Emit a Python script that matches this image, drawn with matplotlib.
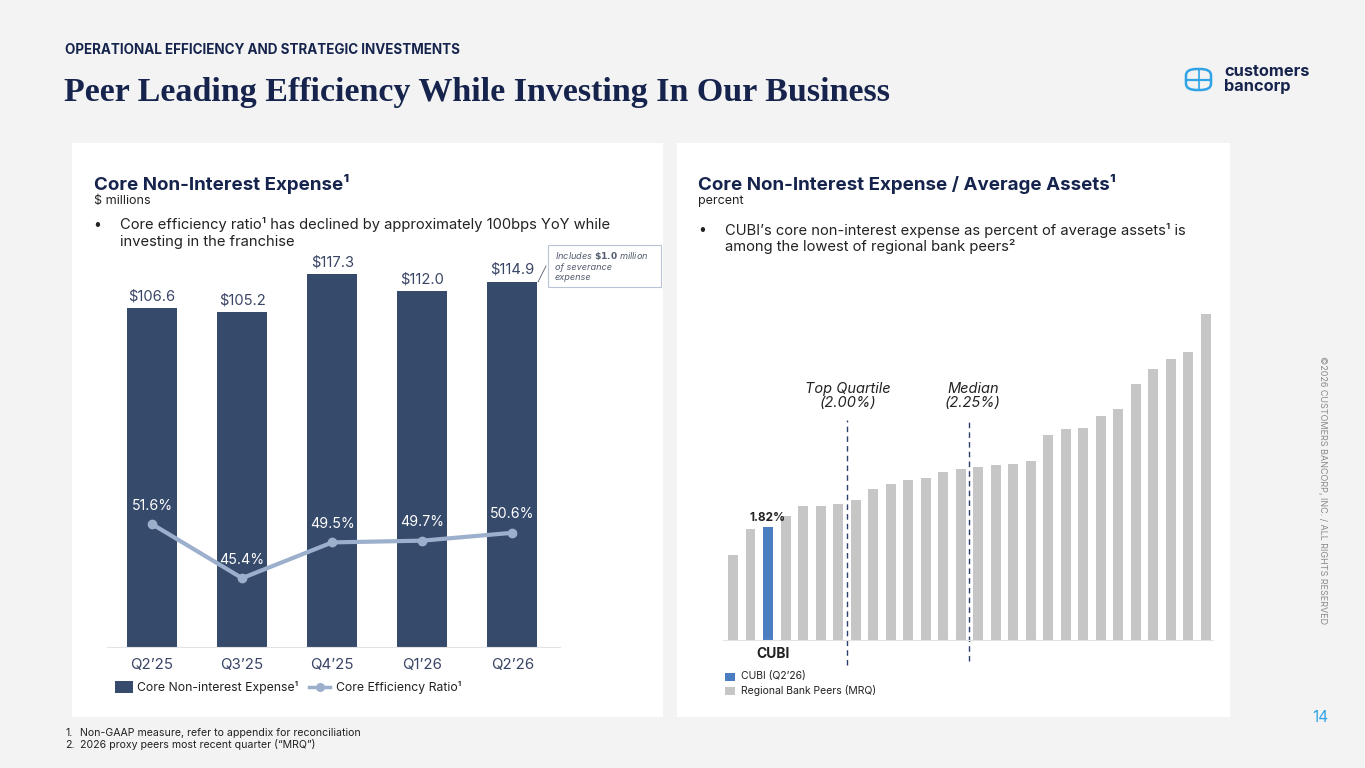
import matplotlib
matplotlib.use("Agg")
import matplotlib.pyplot as plt
from matplotlib.patches import Rectangle, FancyBboxPatch
from matplotlib.lines import Line2D

W, H = 1365, 768

# ---- data ----
quarters = ["Q2\u201925", "Q3\u201925", "Q4\u201925", "Q1\u201926", "Q2\u201926"]
core_nie = [106.6, 105.2, 117.3, 112.0, 114.9]
eff_ratio = [51.6, 45.4, 49.5, 49.7, 50.6]

peer_ratio = [1.62, 1.81, 1.82, 1.90, 1.97, 1.97, 1.99, 2.02, 2.10, 2.13,
              2.16, 2.18, 2.22, 2.24, 2.26, 2.27, 2.28, 2.30, 2.49, 2.53,
              2.54, 2.63, 2.68, 2.86, 2.97, 3.04, 3.09, 3.37]
cubi_idx = 2
top_quartile = 2.00
median = 2.25

NAVY = "#16244d"
BAR = "#364a6b"
LINE = "#9cafcc"
GRAY = "#c6c6c6"
BLUE = "#4a7ec0"
TXT = "#3a4566"

plt.rcParams["font.family"] = ["Inter", "DejaVu Sans"]


def fx(x):
    return x / W


def fy(y):
    return 1 - y / H


def axes_px(fig, x0, y0, x1, y1):
    # pixel box (top-left origin) -> axes
    return fig.add_axes([fx(x0), fy(y1), (x1 - x0) / W, (y1 - y0) / H])


fig = plt.figure(figsize=(W / 100, H / 100), dpi=100, facecolor="#f3f3f3")

# white panels
for x0, x1 in [(72, 663), (677, 1230)]:
    fig.add_artist(Rectangle((fx(x0), fy(717)), (x1 - x0) / W, (717 - 143) / H,
                             transform=fig.transFigure, facecolor="white",
                             edgecolor="none", zorder=0))

# header
fig.text(fx(65), fy(50), "OPERATIONAL EFFICIENCY AND STRATEGIC INVESTMENTS",
         fontsize=9.7, fontweight="bold", color=NAVY, va="center")
fig.text(fx(64), fy(93), "Peer Leading Efficiency While Investing In Our Business",
         fontsize=24.5, fontweight="bold", family=["Liberation Serif", "DejaVu Serif"],
         color=NAVY, va="center")

# logo
ic = FancyBboxPatch((fx(1186), fy(90)), 25 / W, 21 / H, boxstyle="round,pad=0,rounding_size=0.008",
                    transform=fig.transFigure, facecolor="none", edgecolor="#2fa3e6", lw=1.8)
fig.add_artist(ic)
fig.add_artist(Line2D([fx(1186), fx(1211)], [fy(79.5), fy(79.5)], transform=fig.transFigure,
                      color="#2fa3e6", lw=1.6))
fig.add_artist(Line2D([fx(1198.5), fx(1198.5)], [fy(70), fy(89)], transform=fig.transFigure,
                      color="#2fa3e6", lw=1.2))
fig.text(fx(1224), fy(71), "customers", fontsize=11.8, fontweight="bold", color=NAVY, va="center")
fig.text(fx(1224), fy(86), "bancorp", fontsize=11.8, fontweight="bold", color=NAVY, va="center")

# side notes
fig.text(fx(1322), fy(490), "\u00a92026 CUSTOMERS BANCORP, INC. / ALL RIGHTS RESERVED",
         fontsize=6.5, color="#8a8a8a", rotation=-90, ha="center", va="center")
fig.text(fx(1320), fy(718), "14", fontsize=11, color="#2fa3e6", ha="center", va="center")
fig.text(fx(65), fy(733), "1.", fontsize=7.6, color="#222222", va="center")
fig.text(fx(80), fy(733), "Non-GAAP measure, refer to appendix for reconciliation",
         fontsize=7.6, color="#222222", va="center")
fig.text(fx(65), fy(745), "2.", fontsize=7.6, color="#222222", va="center")
fig.text(fx(80), fy(745), "2026 proxy peers most recent quarter (\u201cMRQ\u201d)",
         fontsize=7.6, color="#222222", va="center")

# ---- left panel text ----
fig.text(fx(94), fy(184), "Core Non-Interest Expense\u00b9", fontsize=13.5,
         fontweight="bold", color=NAVY, va="center")
fig.text(fx(94), fy(201), "$ millions", fontsize=9, color="#222222", va="center")
fig.text(fx(93), fy(225), "\u2022", fontsize=10, color="#222222", va="center")
fig.text(fx(120), fy(225), "Core efficiency ratio\u00b9 has declined by approximately 100bps YoY while",
         fontsize=10.6, color="#222222", va="center")
fig.text(fx(120), fy(242), "investing in the franchise", fontsize=10.6, color="#222222", va="center")

# ---- left chart ----
ax = axes_px(fig, 107, 260, 560, 647)
xs = list(range(len(quarters)))
ax.bar(xs, core_nie, width=0.56, color=BAR, zorder=2)
ax.set_xlim(-0.5, 4.53)
ax.set_ylim(0, 121.7)
for x, v in zip(xs, core_nie):
    ax.text(x, v + 1.5, f"${v:.1f}", ha="center", va="bottom", fontsize=10.6, color=TXT)
ax.set_xticks(xs)
ax.set_xticklabels(quarters, fontsize=10.8, color=TXT)
ax.tick_params(axis="x", length=0, pad=8)
ax.set_yticks([])
for s in ["top", "right", "left"]:
    ax.spines[s].set_visible(False)
ax.spines["bottom"].set_color("#e3e3e3")
ax.set_facecolor("none")

ax2 = ax.twinx()
ax2.plot(xs, eff_ratio, color=LINE, lw=3, marker="o", ms=6, zorder=3)
ax2.set_ylim(37.5, 81.9)
ax2.set_yticks([])
for s in ax2.spines.values():
    s.set_visible(False)
for x, v in zip(xs, eff_ratio):
    ax2.text(x, v + 1.3, f"{v:.1f}%", ha="center", va="bottom", fontsize=10.2, color="white")

# annotation box
fig.text(fx(555), fy(266), "Includes $\\mathbf{\\$1.0}$ million\nof severance\nexpense",
         fontsize=6.6, style="italic", color="#555c70", va="center", ha="left", linespacing=1.15,
         math_fontfamily="dejavusans")
fig.add_artist(Rectangle((fx(548), fy(287)), (661 - 548) / W, 42 / H, transform=fig.transFigure,
                         facecolor="white", edgecolor="#b8c4d6", lw=0.8, zorder=1))
fig.add_artist(Line2D([fx(546), fx(538)], [fy(266), fy(282)], transform=fig.transFigure,
                      color="#555c70", lw=0.6))

# left legend
fig.add_artist(Rectangle((fx(115), fy(693)), 18 / W, 12 / H, transform=fig.transFigure,
                         facecolor=BAR, edgecolor="none"))
fig.text(fx(137), fy(687), "Core Non-interest Expense\u00b9", fontsize=8.8, color="#222222", va="center")
fig.add_artist(Line2D([fx(309), fx(330)], [fy(687), fy(687)], transform=fig.transFigure,
                      color=LINE, lw=2.5))
fig.add_artist(Line2D([fx(319.5)], [fy(687)], transform=fig.transFigure,
                      color=LINE, marker="o", ms=5.5, lw=0))
fig.text(fx(336), fy(687), "Core Efficiency Ratio\u00b9", fontsize=8.8, color="#222222", va="center")

# ---- right panel text ----
fig.text(fx(698), fy(184), "Core Non-Interest Expense / Average Assets\u00b9", fontsize=13.5,
         fontweight="bold", color=NAVY, va="center")
fig.text(fx(698), fy(201), "percent", fontsize=9, color="#222222", va="center")
fig.text(fx(698), fy(230), "\u2022", fontsize=10, color="#222222", va="center")
fig.text(fx(725), fy(230), "CUBI\u2019s core non-interest expense as percent of average assets\u00b9 is",
         fontsize=10.6, color="#222222", va="center")
fig.text(fx(725), fy(247), "among the lowest of regional bank peers\u00b2", fontsize=10.6,
         color="#222222", va="center")

# ---- right chart ----
bx = axes_px(fig, 723, 300, 1213, 640)
px_idx = list(range(len(peer_ratio)))
colors = [BLUE if i == cubi_idx else GRAY for i in px_idx]
bx.bar(px_idx, [v - 1.0 for v in peer_ratio], bottom=1.0, width=0.57, color=colors, zorder=2)
bx.set_xlim(-0.57, 27.4)
bx.set_ylim(1.0, 3.47)
bx.set_xticks([])
bx.set_yticks([])
for s in ["top", "right", "left"]:
    bx.spines[s].set_visible(False)
bx.spines["bottom"].set_color("#e3e3e3")
bx.set_facecolor("none")
bx.text(cubi_idx, peer_ratio[cubi_idx] + 0.02, f"{peer_ratio[cubi_idx]:.2f}%", ha="center",
        va="bottom", fontsize=8.5, fontweight="bold", color="#222222")
bx.text(cubi_idx + 0.3, 0.9, "CUBI", ha="center", va="center", fontsize=10,
        fontweight="bold", color="#222222", clip_on=False)

# quartile / median markers: placed between bars by rank
tq_pos = sum(v < top_quartile for v in peer_ratio) - 0.5
md_pos = sum(v < median for v in peer_ratio) - 0.5
bx.vlines(tq_pos, 0.82, 2.6, colors="#2c3e6b", linestyles=(0, (4, 3)), lw=1, clip_on=False)
bx.vlines(md_pos, 0.85, 2.6, colors="#2c3e6b", linestyles=(0, (4, 3)), lw=1, clip_on=False)
bx.text(tq_pos + 0.05, 2.67, f"Top Quartile\n({top_quartile:.2f}%)", ha="center", va="bottom",
        fontsize=10.5, style="italic", color="#222222", linespacing=1.0)
bx.text(md_pos + 0.2, 2.67, f"Median\n({median:.2f}%)", ha="center", va="bottom",
        fontsize=10.5, style="italic", color="#222222", linespacing=1.0)

# right legend
fig.add_artist(Rectangle((fx(725), fy(681)), 10 / W, 8 / H, transform=fig.transFigure,
                         facecolor=BLUE, edgecolor="none"))
fig.text(fx(741), fy(676), "CUBI (Q2\u201926)", fontsize=7.5, color="#222222", va="center")
fig.add_artist(Rectangle((fx(725), fy(695)), 10 / W, 8 / H, transform=fig.transFigure,
                         facecolor=GRAY, edgecolor="none"))
fig.text(fx(741), fy(691), "Regional Bank Peers (MRQ)", fontsize=7.5, color="#222222", va="center")

fig.savefig("out.png", dpi=100, facecolor=fig.get_facecolor())
